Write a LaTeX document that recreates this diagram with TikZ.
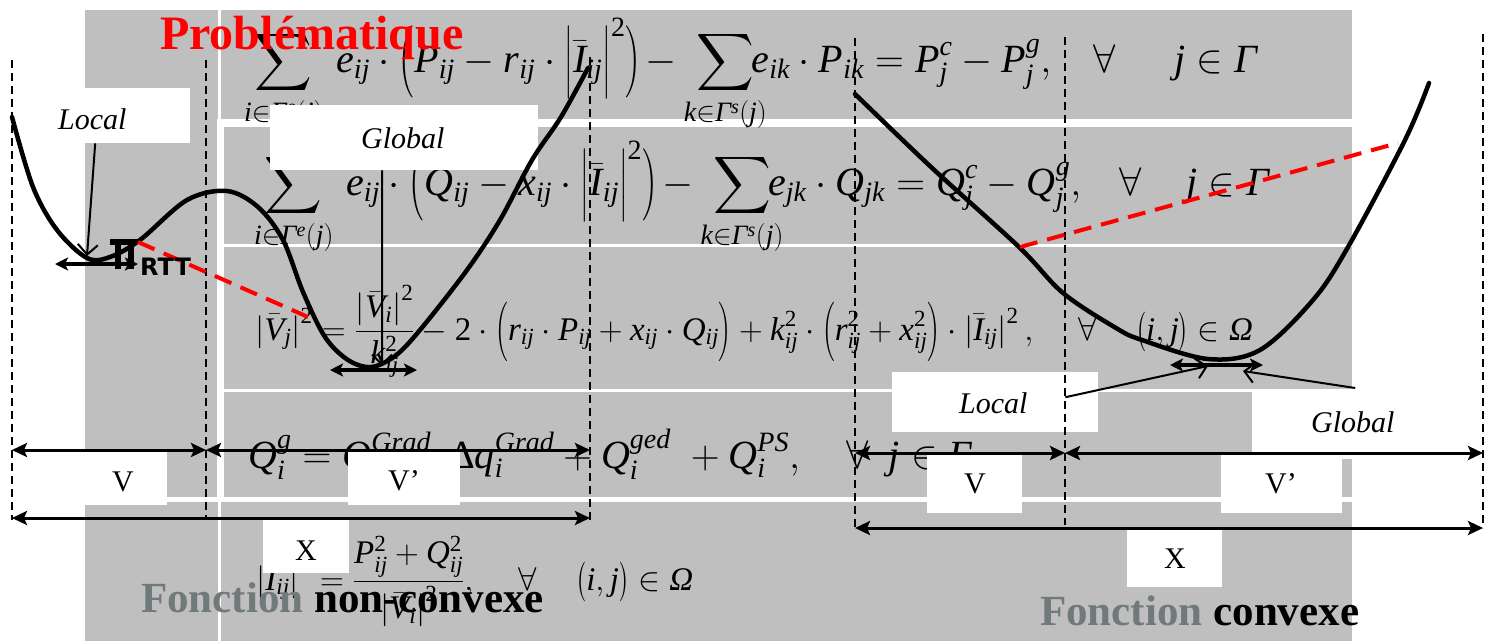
\RequirePackage{fix-cm}
\documentclass[tikz,border=0pt]{standalone}
\usepackage{graphicx}
\usepackage[no-math]{fontspec}
\setmainfont{Liberation Serif}
\newfontfamily\tnr{Liberation Serif}[NFSSFamily=tnr]
\newfontfamily\dejav{DejaVu Sans}
\DeclareFontShape{OMX}{cmex}{m}{n}{<->cmex10}{}
\DeclareSymbolFont{tnrit}{TU}{tnr}{m}{it}
\DeclareSymbolFont{tnrup}{TU}{tnr}{m}{n}
\newcount\lc
\lc=`A \loop \Umathcode\lc="7 \symtnrit \lc \advance\lc by 1 \ifnum\lc<91 \repeat
\lc=`a \loop \Umathcode\lc="7 \symtnrit \lc \advance\lc by 1 \ifnum\lc<123 \repeat
\lc=`0 \loop \Umathcode\lc="0 \symtnrup \lc \advance\lc by 1 \ifnum\lc<58 \repeat
\Umathchardef\itGamma="0 \symtnrit "393
\Umathchardef\itOmega="0 \symtnrit "3A9
\Umathchardef\upDelta="0 \symtnrup "394
\newcommand\dlo[2]{\mathopen{\hbox{\scalebox{0.65}[1]{$\left#1\vcenter to#2{}\right.\kern-\nulldelimiterspace$}}}}
\newcommand\dlc[2]{\mathclose{\hbox{\scalebox{0.65}[1]{$\kern-\nulldelimiterspace\left.\vcenter to#2{}\right#1$}}}}
\usetikzlibrary{arrows.meta}
\definecolor{bggray}{RGB}{191,191,191}
\definecolor{fgray}{RGB}{112,122,122}
\begin{document}
\begin{tikzpicture}[x=1pt,y=-1pt,
  eq/.style={inner sep=0pt, anchor=base west, font=\fontsize{33}{40}\selectfont},
  eqbig/.style={inner sep=0pt, anchor=base west, font=\fontsize{40}{48}\selectfont},
  wbox/.style={fill=white, draw=none, inner sep=0pt, anchor=north west},
  lbl/.style={inner sep=0pt, anchor=base west, font=\fontsize{30}{36}\selectfont},
  dimarrow/.style={line width=3pt, {Stealth[length=15pt,width=14pt,inset=3pt]}-{Stealth[length=15pt,width=14pt,inset=3pt]}},
  minarrow/.style={line width=3.5pt, {Stealth[length=13pt,width=13pt,inset=3pt]}-{Stealth[length=13pt,width=13pt,inset=3pt]}},
  ptr/.style={line width=2pt, -{Straight Barb[length=10pt,width=20pt]}},
  curvestyle/.style={line width=4.5pt, line cap=round, line join=round},
  vdash/.style={line width=1.6pt, dash pattern=on 8pt off 5pt},
  rdash/.style={red, line width=4pt, dash pattern=on 18pt off 10pt},
  title/.style={inner sep=0pt, anchor=base west, font=\fontsize{43}{50}\selectfont\bfseries}]
\useasboundingbox (0,0) rectangle (1487,641);
% background table
\fill[bggray] (85,10) rectangle (1352,641);
\fill[white] (218,10) rectangle (221,120);
\fill[white] (217,119) rectangle (1352,127);
\fill[white] (217,119) rectangle (224,502);
\fill[white] (218,500) rectangle (221,641);
\fill[white] (224,243.5) rectangle (1352,246.5);
\fill[white] (224,388.5) rectangle (1352,391.5);
\fill[white] (85,497) rectangle (1352,502);
% equations
\node[eqbig] (eqA) at (244,72) {$\displaystyle\sum_{i\in\itGamma^{e}(j)}\hspace{6pt}e_{ij}\cdot\dlo({70pt}P_{ij}-r_{ij}\cdot\dlo|{55pt}\bar{I}_{ij}\dlc|{55pt}^{2}\dlc){70pt}\hspace{-4pt}-\hspace{-2pt}\sum_{k\in\itGamma^{s}(j)}\hspace{-22pt}e_{ik}\cdot P_{ik}=P_{j}^{c}-P_{j}^{g},\hspace{0.9em}\forall\hspace{1.45em}j\in\itGamma$};
\node[eqbig] (eqB) at (254,195) {$\displaystyle\sum_{i\in\itGamma^{e}(j)}\hspace{6pt}e_{ij}\cdot\dlo({70pt}Q_{ij}-x_{ij}\cdot\dlo|{55pt}\bar{I}_{ij}\dlc|{55pt}^{2}\dlc){70pt}\hspace{-4pt}-\hspace{-2pt}\sum_{k\in\itGamma^{s}(j)}\hspace{-22pt}e_{jk}\cdot Q_{jk}=Q_{j}^{c}-Q_{j}^{g},\hspace{0.8em}\forall\hspace{1.1em}j\in\itGamma$};
\node[eq] (eqC) at (255,340) {$\displaystyle\left|\bar{V}_{j}\right|^{2}=\frac{\left|\bar{V}_{i}\right|^{2}}{k_{ij}^{2}}-2\cdot\dlo({54pt}r_{ij}\cdot P_{ij}+x_{ij}\cdot Q_{ij}\dlc){54pt}+k_{ij}^{2}\cdot\dlo({54pt}r_{ij}^{2}+x_{ij}^{2}\dlc){54pt}\cdot\left|\bar{I}_{ij}\right|^{2},\hspace{1.2em}\forall\hspace{1.2em}\dlo({38pt}i,j\dlc){38pt}\in\itOmega$};
\node[eqbig] (eqD) at (248,468) {$\displaystyle Q_{i}^{g}=Q_{i}^{Grad}\hspace{18pt}\upDelta q_{i}^{Grad}+Q_{i}^{ged}\;+Q_{i}^{PS},\hspace{1em}\forall\hspace{0.5em}j\in\itGamma$};
\node[eq] (eqE) at (256,590) {$\displaystyle\left|\bar{I}_{ij}\right|^{2}=\frac{P_{ij}^{2}+Q_{ij}^{2}}{\left|\bar{V}_{i}\right|^{2}},\hspace{1.2em}\forall\hspace{1.2em}\dlo({38pt}i,j\dlc){38pt}\in\itOmega$};
% white label boxes
\node[wbox, minimum width=160pt, minimum height=55pt] (bLocL) at (30,88) {};
\node[lbl] (tLocL) at (58,129) {\itshape Local};
\node[wbox, minimum width=268pt, minimum height=65pt] (bGloL) at (270,105) {};
\node[lbl] (tGloL) at (361,148) {\itshape Global};
\node[wbox, minimum width=147pt, minimum height=53pt] (bVL) at (20,452) {};
\node[lbl] (tVL) at (112,491) {V};
\node[wbox, minimum width=112pt, minimum height=53pt] (bVpL) at (348,452) {};
\node[lbl] (tVpL) at (388,490) {V’};
\node[wbox, minimum width=86pt, minimum height=54pt] (bXL) at (263,519) {};
\node[lbl] (tXL) at (295,560) {X};
\node[wbox, minimum width=206pt, minimum height=60pt] (bLocR) at (892,372) {};
\node[lbl] (tLocR) at (959,413) {\itshape Local};
\node[wbox, minimum width=235pt, minimum height=69pt] (bGloR) at (1252,390) {};
\node[lbl] (tGloR) at (1311,432) {\itshape Global};
\node[wbox, minimum width=95pt, minimum height=58pt] (bVR) at (927,455) {};
\node[lbl] (tVR) at (964,493) {V};
\node[wbox, minimum width=121pt, minimum height=58pt] (bVpR) at (1221,455) {};
\node[lbl] (tVpR) at (1265,493) {V’};
\node[wbox, minimum width=95pt, minimum height=59pt] (bXR) at (1127,528) {};
\node[lbl] (tXR) at (1164,568) {X};
% curves
\draw[curvestyle] plot[smooth, tension=0.55] coordinates {(12,117) (33,187) (57,230) (87,258) (110,257) (140,240) (187,200) (227,191) (258,207) (283,240) (303,292) (325,337) (348,360) (371,367) (395,356) (420,330) (467,270) (500,220) (532,160) (561,117) (588,68)};
\draw[curvestyle] plot[smooth, tension=0.55] coordinates {(855,94) (931,167) (1019,247) (1063,293) (1116,328) (1142,340) (1208,359) (1260,350) (1313,300) (1348,247) (1405,140) (1429,83)};
% dashed guides
\draw[vdash] (12,60) -- (12,520);
\draw[vdash] (206,60) -- (206,520);
\draw[vdash] (590,57) -- (590,520);
\draw[vdash] (855,38) -- (855,528);
\draw[vdash] (1065,37) -- (1065,525);
\draw[vdash] (1483,34) -- (1483,528);
% red secants
\coordinate (rA) at (138,242); \coordinate (rB) at (308,317);
\coordinate (rC) at (1020,247); \coordinate (rD) at (1398,143);
\draw[rdash] (rA) -- (rB);
\draw[rdash] (rC) -- (rD);
% dimension arrows
\coordinate (lV1) at (12,450); \coordinate (lV2) at (206,450); \coordinate (lV3) at (590,450);
\coordinate (lX1) at (12,518); \coordinate (lX2) at (590,518);
\coordinate (rV1) at (855,453); \coordinate (rV2) at (1065,453); \coordinate (rV3) at (1483,453);
\coordinate (rX1) at (855,528); \coordinate (rX2) at (1483,528);
\draw[dimarrow] (lV1) -- (lV2);
\draw[dimarrow] (lV2) -- (lV3);
\draw[dimarrow] (lX1) -- (lX2);
\draw[dimarrow] (rV1) -- (rV2);
\draw[dimarrow] (rV2) -- (rV3);
\draw[dimarrow] (rX1) -- (rX2);
% minima markers
\coordinate (mLa) at (55,264); \coordinate (mLb) at (138,264);
\coordinate (mGa) at (330,370); \coordinate (mGb) at (417,370);
\coordinate (mRa) at (1170,365); \coordinate (mRb) at (1263,365);
\draw[minarrow] (mLa) -- (mLb);
\draw[minarrow] (mGa) -- (mGb);
\draw[minarrow] (mRa) -- (mRb);
% pointers
\coordinate (pLoc) at (87,256);
\coordinate (pGlo) at (382,366);
\coordinate (pLocR) at (1208,366);
\coordinate (pGloR) at (1243,371);
\draw[ptr] ([xshift=-15pt]bLocL.south) -- (pLoc);
\draw[ptr] ([xshift=-22pt]bGloL.south) -- (pGlo);
\draw[ptr] ([xshift=-33pt,yshift=5pt]bLocR.east) -- (pLocR);
\draw[ptr] ([xshift=-14.5pt,yshift=2pt]bGloR.north) -- (pGloR);
% RTT mark
\fill (110,239) rectangle (137,245);
\fill (115,239) rectangle (121,269);
\fill (128,239) rectangle (134,269);
\node[inner sep=0pt, anchor=base west, font=\fontsize{24}{24}\selectfont\dejav\bfseries] (rtt) at (140,275) {RTT};
% titles
\node[inner sep=0pt, anchor=base west, font=\fontsize{48}{56}\selectfont\bfseries, text=red] (prob) at (160,49) {Problématique};
\node[title] (fnc) at (141,612) {\textcolor{fgray}{Fonction} non-convexe};
\node[title] (fc) at (1040,625) {\textcolor{fgray}{Fonction} convexe};
\end{tikzpicture}
\end{document}
